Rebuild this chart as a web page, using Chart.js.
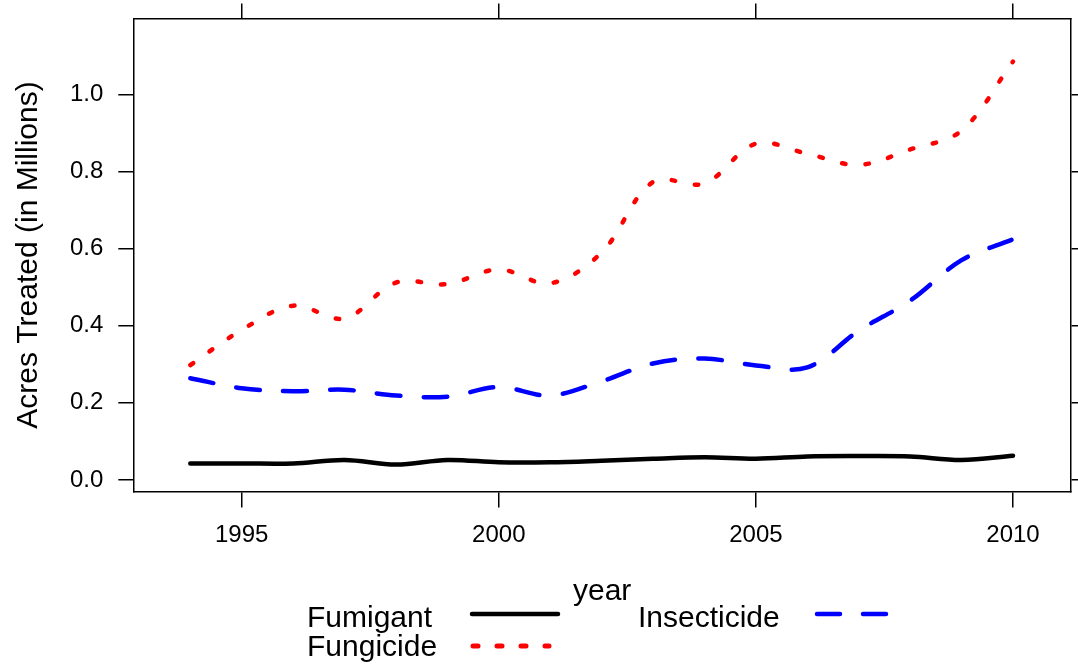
<!DOCTYPE html>
<html>
<head>
<meta charset="utf-8">
<script src="https://cdn.jsdelivr.net/npm/chart.js@4.4.1/dist/chart.umd.min.js"></script>
<style>
  html, body { margin: 0; padding: 0; background: #fff; }
  canvas { display: block; }
</style>
</head>
<body>
<canvas id="grafico" width="1078" height="664"></canvas>
<script>
const years = [1994, 1995, 1996, 1997, 1998, 1999, 2000, 2001, 2002, 2003, 2004, 2005, 2006, 2007, 2008, 2009, 2010];
const fumigant = [0.043, 0.043, 0.043, 0.052, 0.040, 0.052, 0.046, 0.046, 0.050, 0.055, 0.059, 0.055, 0.061, 0.062, 0.061, 0.052, 0.063];
const fungicide = [0.298, 0.389, 0.452, 0.419, 0.512, 0.508, 0.546, 0.510, 0.590, 0.773, 0.769, 0.872, 0.846, 0.817, 0.857, 0.906, 1.085];
const insecticide = [0.264, 0.238, 0.230, 0.234, 0.219, 0.216, 0.241, 0.219, 0.256, 0.302, 0.315, 0.297, 0.292, 0.387, 0.465, 0.570, 0.624];
const xTicks = [1995, 2000, 2005, 2010];
const yTicks = [0.0, 0.2, 0.4, 0.6, 0.8, 1.0];

const FONT = "'Liberation Sans', Arial, sans-serif";

const series = [
  { label: "Fumigant", data: fumigant, color: "#000000", dash: [] },
  { label: "Fungicide", data: fungicide, color: "#ff0000", dash: [3.5, 20] },
  { label: "Insecticide", data: insecticide, color: "#0000ff", dash: [23.5, 23.5] }
];

// legenda no estilo lattice, desenhada abaixo do eixo x
const legendaLattice = {
  id: "legendaLattice",
  afterDraw(chart) {
    const ctx = chart.ctx;
    const itens = [
      { i: 0, tx: 307, ty: 627, x1: 472, x2: 558, y: 614 },
      { i: 1, tx: 307, ty: 656, x1: 473, x2: 549, y: 646 },
      { i: 2, tx: 638, ty: 627, x1: 817, x2: 888, y: 614 }
    ];
    ctx.save();
    ctx.font = "30px " + FONT;
    ctx.fillStyle = "#000";
    ctx.textBaseline = "alphabetic";
    ctx.textAlign = "left";
    itens.forEach(it => {
      const ds = chart.data.datasets[it.i];
      ctx.fillText(ds.label, it.tx, it.ty);
      ctx.beginPath();
      ctx.strokeStyle = ds.borderColor;
      ctx.lineWidth = it.i === 1 ? 5 : 4.5;
      ctx.lineCap = "round";
      ctx.setLineDash(it.i === 1 ? [5, 19] : (it.i === 2 ? [23, 23] : ds.borderDash));
      ctx.moveTo(it.x1, it.y);
      ctx.lineTo(it.x2, it.y);
      ctx.stroke();
    });
    ctx.restore();
  }
};

const eixoBase = {
  grid: { drawOnChartArea: false, drawTicks: true, tickLength: 15, color: "#000", lineWidth: 1.5 },
  border: { display: true, color: "#000", width: 1.5 }
};

// eixos verticais: sem folga extra para os rótulos nas pontas
const semFolga = (s, w) => { s.width = w; s.paddingTop = 0; s.paddingBottom = 0; };

new Chart(document.getElementById("grafico"), {
  type: "line",
  data: {
    datasets: series.map(s => ({
      label: s.label,
      data: years.map((y, k) => ({ x: y, y: s.data[k] })),
      borderColor: s.color,
      backgroundColor: s.color,
      borderWidth: 4.5,
      borderDash: s.dash,
      borderCapStyle: "round",
      borderJoinStyle: "round",
      pointRadius: 0,
      tension: 0.35,
      fill: false
    }))
  },
  options: {
    responsive: false,
    animation: false,
    layout: { padding: { left: 0, right: 0, top: 0, bottom: 50 } },
    plugins: { legend: { display: false }, tooltip: { enabled: false } },
    scales: {
      x: {
        ...eixoBase,
        type: "linear",
        position: "bottom",
        min: 1992.892,
        max: 2011.128,
        grid: { ...eixoBase.grid, tickLength: 16 },
        afterBuildTicks: s => { s.ticks = xTicks.map(v => ({ value: v })); },
        afterFit: s => { s.height = 122.5; s.paddingLeft = 0; s.paddingRight = 0; },
        ticks: { color: "#000", font: { family: FONT, size: 24 }, padding: 13, maxRotation: 0, callback: v => String(v) },
        title: { display: true, text: "year", color: "#000", font: { family: FONT, size: 30 }, padding: { top: 0, bottom: 4.5 } }
      },
      x2: {
        ...eixoBase,
        type: "linear",
        position: "top",
        min: 1992.892,
        max: 2011.128,
        afterBuildTicks: s => { s.ticks = xTicks.map(v => ({ value: v })); },
        afterFit: s => { s.height = 18.5; s.paddingLeft = 0; s.paddingRight = 0; },
        ticks: { display: false }
      },
      y: {
        ...eixoBase,
        position: "left",
        min: -0.0298,
        max: 1.1965,
        afterBuildTicks: s => { s.ticks = yTicks.map(v => ({ value: v })); },
        afterFit: s => semFolga(s, 133.3),
        ticks: { color: "#000", font: { family: FONT, size: 24 }, padding: 15, callback: v => v.toFixed(1) },
        title: { display: true, text: "Acres Treated (in Millions)", color: "#000", font: { family: FONT, size: 30 }, padding: { top: 11, bottom: 0 } }
      },
      y2: {
        ...eixoBase,
        position: "right",
        min: -0.0298,
        max: 1.1965,
        afterBuildTicks: s => { s.ticks = yTicks.map(v => ({ value: v })); },
        afterFit: s => semFolga(s, 7),
        ticks: { display: false }
      }
    }
  },
  plugins: [legendaLattice]
});
</script>
</body>
</html>
